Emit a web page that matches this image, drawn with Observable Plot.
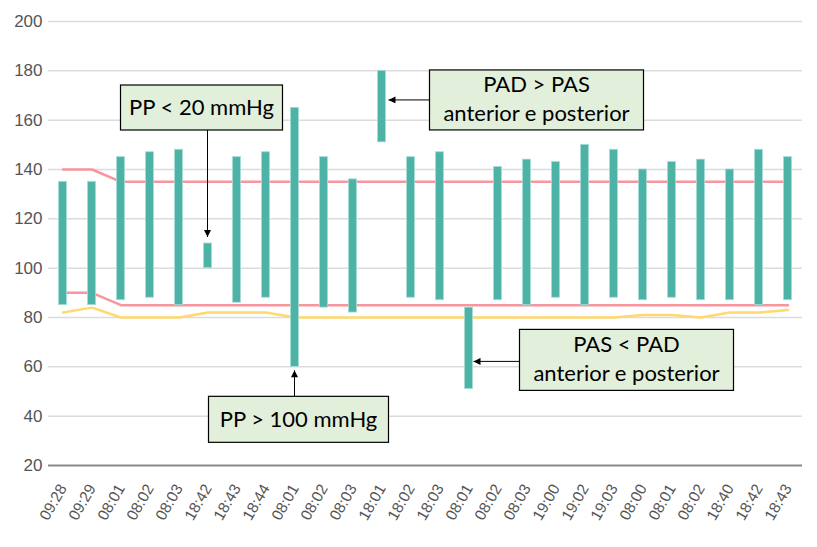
<!DOCTYPE html>
<html><head><meta charset="utf-8">
<script src="https://cdn.jsdelivr.net/npm/d3@7"></script>
<script src="https://cdn.jsdelivr.net/npm/@observablehq/plot@0.6"></script>
<style>
body{margin:0;background:#fff}
#chart{width:817px;height:547px}
</style>
</head><body><div id="chart"></div>
<script>
const times = ["09:28","09:29","08:01","08:02","08:03","18:42","18:43","18:44","08:01","08:02","08:03","18:01","18:02","18:03","08:01","08:02","08:03","19:00","19:02","19:03","08:00","08:01","08:02","18:40","18:42","18:43"];
const systolic  = [135,135,145,147,148,110,145,147,165,145,136,180,145,147,84,141,144,143,150,148,140,143,144,140,148,145];
const diastolic = [85,85,87,88,85,100,86,88,60,84,82,151,88,87,51,87,85,88,85,88,87,88,87,87,85,87];
const upperLimit = [140,140,135,135,135,135,135,135,135,135,135,135,135,135,135,135,135,135,135,135,135,135,135,135,135,135];
const lowerLimit = [90,90,85,85,85,85,85,85,85,85,85,85,85,85,85,85,85,85,85,85,85,85,85,85,85,85];
const meanLine = [82,84,80,80,80,82,82,82,80,80,80,80,80,80,80,80,80,80,80,80,81,81,80,82,82,83];
const yTicks = [20,40,60,80,100,120,140,160,180,200];

const idx = d3.range(times.length);
const rows = idx.map(i => ({i, sys: systolic[i], dia: diastolic[i], up: upperLimit[i], lo: lowerLimit[i], m: meanLine[i]}));

const chart = Plot.plot({
  width: 817, height: 547,
  marginLeft: 48, marginRight: 15, marginTop: 21, marginBottom: 82,
  style: {fontFamily: "Arial, sans-serif", fontSize: "17px", color: "#555", background: "#fff", overflow: "visible"},
  x: {type: "band", domain: idx, padding: 0, tickFormat: i => times[i], tickRotate: -60, tickSize: 0, tickPadding: 20, label: null},
  y: {domain: [20, 200], ticks: yTicks, tickSize: 0, tickPadding: 6, label: null},
  marks: [
    Plot.ruleY(yTicks.filter(d => d > 20), {stroke: "#dcdcdc", strokeWidth: 1.5}),
    Plot.ruleY([20], {stroke: "#8a8a8a", strokeWidth: 2}),
    Plot.line(rows, {x: "i", y: "m", stroke: "#ffd96e", strokeWidth: 2.5}),
    Plot.line(rows, {x: "i", y: "up", stroke: "#f8959f", strokeWidth: 2.5}),
    Plot.line(rows, {x: "i", y: "lo", stroke: "#f8959f", strokeWidth: 2.5}),
    Plot.barY(rows, {x: "i", y1: "dia", y2: "sys", fill: "#4db3a6", stroke: "#a9ddd5", strokeWidth: 0.8, insetLeft: 10.5, insetRight: 10.5})
  ]
});
document.getElementById("chart").appendChild(chart);
d3.select(chart).selectAll('[aria-label^="x-axis"] text').style("font-size", "15.5px");

// annotations anchored to data positions
const xs = chart.scale("x"), ys = chart.scale("y");
const xc = i => xs.apply(i) + xs.bandwidth / 2;
const svg = d3.select(chart);
svg.append("defs").append("marker").attr("id", "ah").attr("viewBox", "0 0 10 10")
  .attr("refX", 10).attr("refY", 5).attr("markerWidth", 8).attr("markerHeight", 7)
  .attr("markerUnits", "userSpaceOnUse").attr("orient", "auto")
  .append("path").attr("d", "M0,0L10,5L0,10z").attr("fill", "#000");
const g = svg.append("g");
function arrow(x1, y1, x2, y2) {
  g.append("line").attr("x1", x1).attr("y1", y1).attr("x2", x2).attr("y2", y2)
    .attr("stroke", "#000").attr("stroke-width", 1).attr("marker-end", "url(#ah)");
}
function box(x1, y1, x2, y2, lines) {
  g.append("rect").attr("x", x1).attr("y", y1).attr("width", x2 - x1).attr("height", y2 - y1)
    .attr("fill", "#e2efda").attr("stroke", "#000").attr("stroke-width", 1.2);
  const cx = (x1 + x2) / 2, cy = (y1 + y2) / 2;
  const offs = lines.length === 1 ? [7.5] : [-7.5, 21];
  lines.forEach((t, k) => g.append("text").attr("x", cx).attr("y", cy + offs[k]).attr("text-anchor", "middle")
    .style("font-family", "Lato, 'Open Sans', sans-serif").style("font-size", "22px").style("fill", "#000").text(t));
}
// PP < 20 mmHg
{ const x = xc(5), y = ys.apply(110);
  box(x - 87, y - 158, x + 75, y - 113, ["PP < 20 mmHg"]); arrow(x, y - 113, x, y - 6); }
// PAD > PAS
{ const x = xc(11), y = ys.apply(168);
  box(x + 48, y - 30, x + 262, y + 30, ["PAD > PAS", "anterior e posterior"]); arrow(x + 48, y, x + 7, y); }
// PP > 100 mmHg
{ const x = xc(8), y = ys.apply(60);
  box(x - 86, y + 30, x + 94, y + 76, ["PP > 100 mmHg"]); arrow(x, y + 30, x, y + 4); }
// PAS < PAD
{ const x = xc(14), y = ys.apply(62);
  box(x + 51, y - 32, x + 265, y + 29, ["PAS < PAD", "anterior e posterior"]); arrow(x + 51, y, x + 5, y); }
</script></body></html>
